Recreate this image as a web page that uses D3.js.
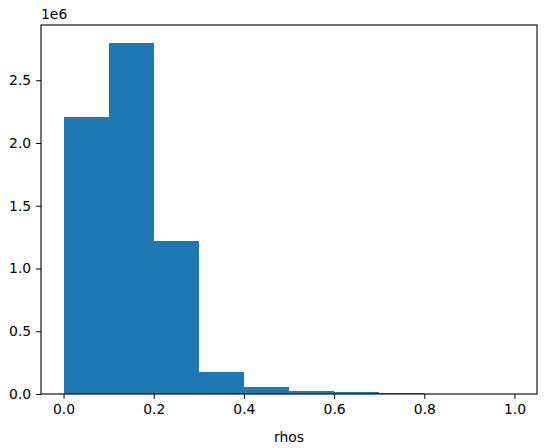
<!DOCTYPE html>
<html>
<head>
<meta charset="utf-8">
<script src="https://cdn.jsdelivr.net/npm/d3@7"></script>
<style>
  body { margin: 0; background: #fff; }
  svg text { font-family: "DejaVu Sans", sans-serif; font-size: 13.9px; fill: #000; }
</style>
</head>
<body>
<div id="chart"></div>
<script>
// histogram bins (left edges) and counts
const binEdges = [0.0, 0.1, 0.2, 0.3, 0.4, 0.5, 0.6, 0.7, 0.8, 0.9, 1.0];
const counts = [2210000, 2800000, 1220000, 178000, 52000, 27000, 13000, 5000, 1000, 300];
const xTicks = [0.0, 0.2, 0.4, 0.6, 0.8, 1.0];
const yTicks = [0, 0.5e6, 1.0e6, 1.5e6, 2.0e6, 2.5e6];

var margin = { top: 25, right: 10, bottom: 54, left: 41 },
  width = 547 - margin.left - margin.right,
  height = 448 - margin.top - margin.bottom;

var x = d3.scaleLinear().domain([-0.05, 1.05]).range([0, width]);
var ymax = d3.max(counts) * 1.05;
var y = d3.scaleLinear().domain([0, ymax]).range([height, 0]);

var svg = d3.select("#chart").append("svg")
  .attr("width", 547)
  .attr("height", 448)
  .append("g")
  .attr("transform", "translate(" + margin.left + "," + margin.top + ")");

var bins = counts.map((c, i) => ({ x0: binEdges[i], x1: binEdges[i + 1], n: c }));

svg.selectAll(".bar")
  .data(bins)
  .enter().append("rect")
  .attr("class", "bar")
  .attr("x", d => x(d.x0))
  .attr("width", d => x(d.x1) - x(d.x0))
  .attr("y", d => y(d.n))
  .attr("height", d => height - y(d.n))
  .attr("fill", "#1f77b4")
  .attr("shape-rendering", "crispEdges");

// x axis
var xAxis = svg.append("g")
  .attr("transform", "translate(0," + height + ")")
  .call(d3.axisBottom(x).tickValues(xTicks).tickFormat(d3.format(".1f")).tickSizeOuter(0).tickSize(4.9).tickPadding(4.9));
xAxis.select(".domain").remove();
xAxis.selectAll("text").style("font-size", "13.9px").style("font-family", "DejaVu Sans");

// y axis
var yAxis = svg.append("g")
  .call(d3.axisLeft(y).tickValues(yTicks).tickFormat(d => (d / 1e6).toFixed(1)).tickSizeOuter(0).tickSize(4.9).tickPadding(4.9));
yAxis.select(".domain").remove();
yAxis.selectAll("text").style("font-size", "13.9px").style("font-family", "DejaVu Sans");

// frame
svg.append("rect")
  .attr("x", 0).attr("y", 0)
  .attr("width", width).attr("height", height)
  .attr("fill", "none")
  .attr("stroke", "#000")
  .attr("stroke-width", 1.1);

// offset text
svg.append("text")
  .attr("x", 0).attr("y", -6)
  .text("1e6");

// x label
svg.append("text")
  .attr("x", x(0.5)).attr("y", height + 48)
  .attr("text-anchor", "middle")
  .text("rhos");
</script>
</body>
</html>
